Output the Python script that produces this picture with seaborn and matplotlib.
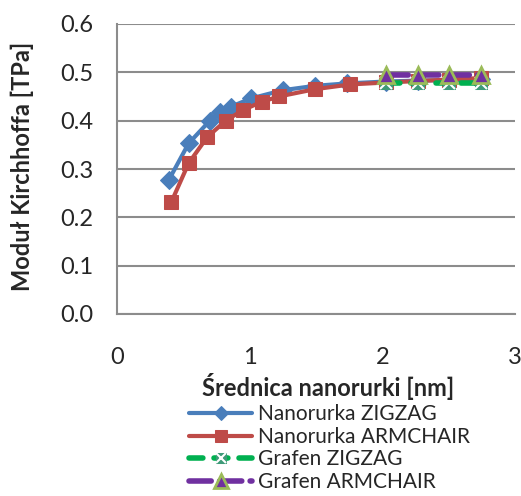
import pandas as pd
import seaborn as sns
from matplotlib import pyplot as plt
from matplotlib.legend_handler import HandlerTuple

px = 1/100

# diameters [nm] and Kirchhoff modulus [TPa]
zigzag_d = [0.39, 0.54, 0.70, 0.78, 0.86, 1.01, 1.25, 1.49, 1.73, 2.03, 2.27, 2.50, 2.74]
zigzag_g = [0.277, 0.353, 0.400, 0.417, 0.429, 0.446, 0.463, 0.472, 0.477, 0.481, 0.483, 0.484, 0.486]

armchair_d = [0.41, 0.54, 0.68, 0.82, 0.95, 1.09, 1.22, 1.49, 1.76, 2.03, 2.27, 2.50, 2.74]
armchair_g = [0.232, 0.312, 0.366, 0.400, 0.422, 0.439, 0.450, 0.465, 0.475, 0.479, 0.482, 0.485, 0.488]

graphene_d = [2.03, 2.27, 2.50, 2.74]
graphene_zz = [0.478, 0.478, 0.478, 0.478]
graphene_ac = [0.495, 0.495, 0.495, 0.495]

labels = ['Nanorurka ZIGZAG', 'Nanorurka ARMCHAIR', 'Grafen ZIGZAG', 'Grafen ARMCHAIR']

df_zz = pd.DataFrame({'d': zigzag_d, 'g': zigzag_g})
df_ac = pd.DataFrame({'d': armchair_d, 'g': armchair_g})
df_gzz = pd.DataFrame({'d': graphene_d, 'g': graphene_zz})
df_gac = pd.DataFrame({'d': graphene_d, 'g': graphene_ac})

sns.set_style("white")
plt.rcParams['font.family'] = ['Lato', 'DejaVu Sans']

fig = plt.figure(figsize=(521*px, 496*px), dpi=100)
ax = fig.add_axes([117/521, 1-314/496, 398/521, 290/496])

sns.lineplot(data=df_zz, x='d', y='g', ax=ax, color='#4A7EBB', lw=3, marker='D',
             ms=9, mec='#4A7EBB', sort=False, zorder=3)
sns.lineplot(data=df_ac, x='d', y='g', ax=ax, color='#BE4B48', lw=3, marker='s',
             ms=10, mec='#BE4B48', sort=False, zorder=4)
sns.lineplot(data=df_gzz, x='d', y='g', ax=ax, color='#00B050', lw=4, marker='s',
             ms=9, mfc='#3E9A78', mec='#3E9A78', sort=False, zorder=5,
             linestyle=(0, (2.5, 2)), dash_capstyle='round')
sns.lineplot(data=df_gzz, x='d', y='g', ax=ax, color='#8064A2', lw=0, marker='x',
             ms=9, mew=1.5, sort=False, zorder=6)
sns.lineplot(data=df_gac, x='d', y='g', ax=ax, color='#7030A0', lw=4, marker='^',
             ms=12, mfc='#7030A0', mec='#9BBB59', mew=2, sort=False, zorder=7,
             linestyle=(0, (4, 1.5)), dash_capstyle='round')

ax.set_xlim(0, 3)
ax.set_ylim(0, 0.6)
ax.set_xticks([0, 1, 2, 3])
ax.set_yticks([0, 0.1, 0.2, 0.3, 0.4, 0.5, 0.6])
ax.set_yticklabels(['0.0', '0.1', '0.2', '0.3', '0.4', '0.5', '0.6'])
ax.tick_params(axis='both', length=0, labelsize=17)
ax.tick_params(axis='y', pad=17)
ax.tick_params(axis='x', pad=24)
ax.grid(axis='y', color='#8C8C8C', lw=1.5)
ax.set_axisbelow(True)
for s in ['top', 'right']:
    ax.spines[s].set_visible(False)
for s in ['left', 'bottom']:
    ax.spines[s].set_color('#8C8C8C')
    ax.spines[s].set_linewidth(1.5)

ax.set_xlabel('Średnica nanorurki [nm]', fontsize=17, fontweight='bold')
ax.set_ylabel('Moduł Kirchhoffa [TPa]', fontsize=17, fontweight='bold')
ax.xaxis.set_label_coords(0.53, -0.205)
ax.yaxis.set_label_coords(-0.208, 0.51)

lines = ax.get_lines()
handles = [lines[0], lines[1], (lines[2], lines[3]), lines[4]]
fig.legend(handles, labels, loc='upper left', bbox_to_anchor=(181/521, 1-396/496),
           frameon=False, fontsize=15, handlelength=3.0, handletextpad=0.3,
           labelspacing=0.12, borderaxespad=0, markerscale=0.8,
           handler_map={tuple: HandlerTuple()})

plt.savefig('out.png', dpi=100)
